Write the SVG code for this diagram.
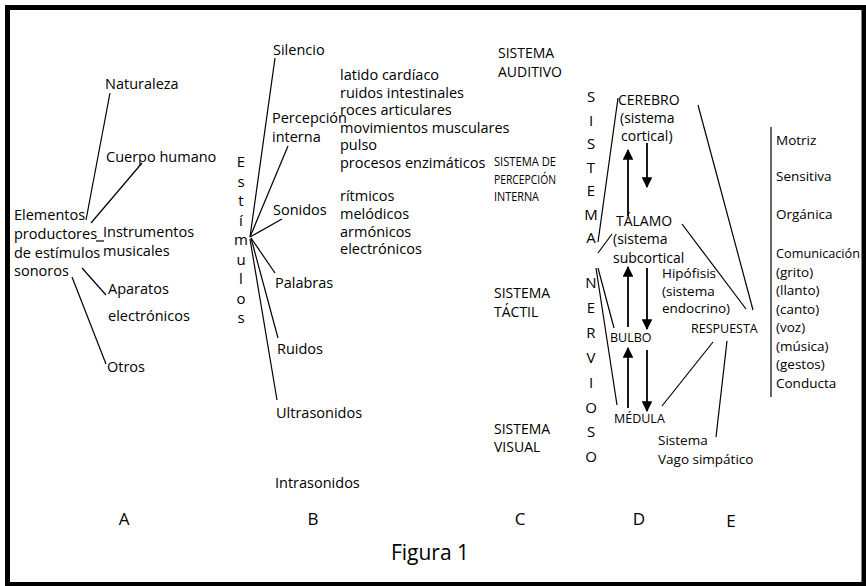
<svg xmlns="http://www.w3.org/2000/svg" width="866" height="586" viewBox="0 0 866 586">
  <defs>
    <style>
      text { font-family: "Open Sans", "Noto Sans", "DejaVu Sans", sans-serif; fill: #000; }
      .t { font-size: 14.5px; }
      .d { font-size: 14px; }
      .s { font-size: 14px; }
      .sc { font-size: 13px; }
      .sys { font-size: 13.5px; }
      .node { font-size: 12.5px; }
      .v { font-size: 15px; text-anchor: middle; }
      .e { font-size: 13.5px; }
      .col { font-size: 17px; text-anchor: middle; }
      .cap { font-size: 21px; text-anchor: middle; }
      .ln line { stroke: #000; stroke-width: 1.2; fill: none; }
      .ar line { stroke: #000; stroke-width: 1.8; }
    </style>
    <marker id="head" viewBox="0 0 10 10" refX="9" refY="5" markerWidth="6" markerHeight="6" markerUnits="strokeWidth" orient="auto">
      <path d="M0,0 L10,5 L0,10 Z" fill="#000"/>
    </marker>
  </defs>

  <!-- frame -->
  <rect x="7.5" y="7.5" width="856.5" height="577" fill="#fff" stroke="#000" stroke-width="5"/>

  <!-- A: sources of sound stimuli -->
  <g id="elementos">
    <text class="t" x="14" y="220">Elementos</text>
    <text class="t" x="14" y="239">productores</text>
    <text class="t" x="14" y="258">de estímulos</text>
    <text class="t" x="14" y="276">sonoros</text>
  </g>
  <g id="naturaleza"><text class="t" x="105" y="89">Naturaleza</text></g>
  <g id="cuerpo-humano"><text class="t" x="106" y="162">Cuerpo humano</text></g>
  <g id="instrumentos">
    <text class="t" x="103" y="237">Instrumentos</text>
    <text class="t" x="103" y="256">musicales</text>
  </g>
  <g id="aparatos">
    <text class="t" x="108" y="294">Aparatos</text>
    <text class="t" x="108" y="321">electrónicos</text>
  </g>
  <g id="otros"><text class="t" x="107" y="372">Otros</text></g>

  <!-- B: stimuli -->
  <g id="estimulos">
    <text class="v" x="241" y="167">E</text>
    <text class="v" x="241" y="186.5">s</text>
    <text class="v" x="241" y="206">t</text>
    <text class="v" x="241" y="225.5">í</text>
    <text class="v" x="241" y="245">m</text>
    <text class="v" x="241" y="264.5">u</text>
    <text class="v" x="241" y="284">l</text>
    <text class="v" x="241" y="303.5">o</text>
    <text class="v" x="241" y="323">s</text>
  </g>
  <g id="silencio"><text class="t" x="273" y="55">Silencio</text></g>
  <g id="percepcion-interna">
    <text class="t" x="272" y="123">Percepción</text>
    <text class="t" x="272" y="142">interna</text>
  </g>
  <g id="sonidos"><text class="t" x="273" y="215">Sonidos</text></g>
  <g id="palabras"><text class="t" x="275" y="288">Palabras</text></g>
  <g id="ruidos"><text class="t" x="277" y="354">Ruidos</text></g>
  <g id="ultrasonidos"><text class="t" x="276" y="418">Ultrasonidos</text></g>
  <g id="intrasonidos"><text class="t" x="275" y="488">Intrasonidos</text></g>

  <g id="percepcion-lista">
    <text class="t" x="340" y="80">latido cardíaco</text>
    <text class="t" x="340" y="97.5">ruidos intestinales</text>
    <text class="t" x="340" y="115">roces articulares</text>
    <text class="t" x="340" y="132.5">movimientos musculares</text>
    <text class="t" x="340" y="150">pulso</text>
    <text class="t" x="340" y="167.5">procesos enzimáticos</text>
  </g>
  <g id="sonidos-lista">
    <text class="t" x="340" y="201">rítmicos</text>
    <text class="t" x="340" y="219">melódicos</text>
    <text class="t" x="340" y="236.5">armónicos</text>
    <text class="t" x="340" y="254">electrónicos</text>
  </g>

  <!-- C: perception systems -->
  <g id="sistema-auditivo">
    <text class="s" x="498" y="58">SISTEMA</text>
    <text class="s" x="498" y="77">AUDITIVO</text>
  </g>
  <g id="sistema-percepcion-interna">
    <text class="sc" x="494" y="166" textLength="62" lengthAdjust="spacingAndGlyphs">SISTEMA DE</text>
    <text class="sc" x="494" y="184" textLength="62" lengthAdjust="spacingAndGlyphs">PERCEPCIÓN</text>
    <text class="sc" x="494" y="201" textLength="45" lengthAdjust="spacingAndGlyphs">INTERNA</text>
  </g>
  <g id="sistema-tactil">
    <text class="s" x="494" y="298">SISTEMA</text>
    <text class="s" x="494" y="317">TÁCTIL</text>
  </g>
  <g id="sistema-visual">
    <text class="s" x="494" y="434">SISTEMA</text>
    <text class="s" x="494" y="452">VISUAL</text>
  </g>

  <!-- D: nervous system -->
  <g id="sistema-nervioso">
    <text class="v" x="591" y="102">S</text>
    <text class="v" x="591" y="125.5">I</text>
    <text class="v" x="591" y="149">S</text>
    <text class="v" x="591" y="172.5">T</text>
    <text class="v" x="591" y="196">E</text>
    <text class="v" x="591" y="219.5">M</text>
    <text class="v" x="591" y="243">A</text>
    <text class="v" x="591" y="288">N</text>
    <text class="v" x="591" y="313">E</text>
    <text class="v" x="591" y="338">R</text>
    <text class="v" x="591" y="363">V</text>
    <text class="v" x="591" y="388">I</text>
    <text class="v" x="591" y="413">O</text>
    <text class="v" x="591" y="437">S</text>
    <text class="v" x="591" y="462">O</text>
  </g>
  <g id="cerebro">
    <text class="s" x="618" y="105">CEREBRO</text>
    <text class="d" x="620" y="123">(sistema</text>
    <text class="d" x="621" y="141">cortical)</text>
  </g>
  <g id="talamo">
    <text class="s" x="616" y="226">TÁLAMO</text>
    <text class="d" x="613" y="243.5">(sistema</text>
    <text class="d" x="613" y="262.5">subcortical</text>
  </g>
  <g id="hipofisis">
    <text class="sys" x="662" y="278">Hipófisis</text>
    <text class="sys" x="662" y="296">(sistema</text>
    <text class="sys" x="662" y="313">endocrino)</text>
  </g>
  <g id="bulbo"><text class="node" x="610" y="342">BULBO</text></g>
  <g id="medula"><text class="node" x="614" y="423">MÉDULA</text></g>
  <g id="respuesta"><text class="node" x="691" y="333">RESPUESTA</text></g>
  <g id="vago">
    <text class="sys" x="658" y="445">Sistema</text>
    <text class="sys" x="658" y="464">Vago simpático</text>
  </g>

  <!-- E: responses -->
  <g id="respuestas">
    <text class="e" x="776" y="145">Motriz</text>
    <text class="e" x="776" y="181">Sensitiva</text>
    <text class="e" x="776" y="219">Orgánica</text>
    <text class="e" x="776" y="258" textLength="84" lengthAdjust="spacingAndGlyphs">Comunicación</text>
    <text class="e" x="776" y="276.5">(grito)</text>
    <text class="e" x="776" y="295">(llanto)</text>
    <text class="e" x="776" y="313.5">(canto)</text>
    <text class="e" x="776" y="332">(voz)</text>
    <text class="e" x="776" y="350.5">(música)</text>
    <text class="e" x="776" y="369">(gestos)</text>
    <text class="e" x="776" y="387.5">Conducta</text>
  </g>

  <!-- column letters and caption -->
  <g id="columnas">
    <text class="col" x="124" y="525">A</text>
    <text class="col" x="313" y="525">B</text>
    <text class="col" x="520" y="525">C</text>
    <text class="col" x="639" y="525">D</text>
    <text class="col" x="731" y="527">E</text>
  </g>
  <g id="caption"><text class="cap" x="430" y="560">Figura 1</text></g>

  <!-- connectors -->
  <g id="connectors" class="ln">
    <!-- A -->
    <line x1="86" y1="220" x2="110" y2="93"/>
    <line x1="91" y1="223" x2="142" y2="163"/>
    <line x1="96" y1="241" x2="104" y2="241"/>
    <line x1="82" y1="268" x2="106" y2="295"/>
    <line x1="72" y1="277" x2="106" y2="364"/>
    <!-- B -->
    <line x1="250" y1="237" x2="275" y2="58"/>
    <line x1="250" y1="237" x2="288" y2="146"/>
    <line x1="250" y1="237" x2="282" y2="219"/>
    <line x1="251" y1="238" x2="275" y2="273"/>
    <line x1="251" y1="238" x2="278" y2="338"/>
    <line x1="250" y1="239" x2="277" y2="400"/>
    <!-- D -->
    <line x1="598" y1="242" x2="618" y2="98"/>
    <line x1="598" y1="253" x2="612" y2="234"/>
    <line x1="598" y1="268" x2="614" y2="328"/>
    <line x1="596" y1="268" x2="617" y2="405"/>
    <line x1="698" y1="105" x2="753" y2="310"/>
    <line x1="682" y1="224" x2="746" y2="309"/>
    <line x1="713" y1="342" x2="662" y2="406"/>
    <line x1="727" y1="341" x2="716" y2="437"/>
    <!-- E -->
    <line x1="771" y1="127" x2="771" y2="397"/>
  </g>

  <g id="arrows" class="ar">
    <line x1="628" y1="216" x2="628" y2="150" marker-end="url(#head)"/>
    <line x1="647" y1="143" x2="647" y2="187" marker-end="url(#head)"/>
    <line x1="628" y1="327" x2="628" y2="267" marker-end="url(#head)"/>
    <line x1="647" y1="268" x2="647" y2="329" marker-end="url(#head)"/>
    <line x1="628" y1="408" x2="628" y2="348" marker-end="url(#head)"/>
    <line x1="647" y1="350" x2="647" y2="411" marker-end="url(#head)"/>
  </g>
</svg>
